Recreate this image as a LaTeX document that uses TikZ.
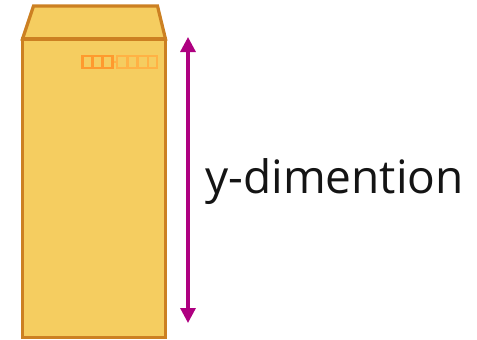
\documentclass[tikz,border=0pt]{standalone}
\usepackage{fontspec}
\setmainfont{Open Sans}
\usetikzlibrary{arrows.meta}
\definecolor{envfill}{HTML}{F5CD60}
\definecolor{envline}{HTML}{CC8022}
\definecolor{arrowc}{HTML}{AE0080}
\definecolor{zipdark}{HTML}{FF9A2E}
\definecolor{ziplight}{HTML}{FFB245}
\tikzset{
  env/.style={fill=envfill,draw=envline,line width=3.2bp,line join=miter},
  zipd/.style={draw=zipdark,line width=2.2bp},
  zipl/.style={draw=ziplight,line width=2bp},
  dimarrow/.style={draw=arrowc,line width=3.2bp,{Triangle[length=15bp,width=15bp]}-{Triangle[length=15bp,width=15bp]}},
  dimlabel/.style={inner sep=0pt,anchor=base west,text=black!92,font=\fontsize{46bp}{50bp}\selectfont}
}
\begin{document}
\begin{tikzpicture}[x=1bp,y=-1bp]
\useasboundingbox (0,0) rectangle (477,339);
\draw[env] (22.5,39) -- (33.5,6) -- (157.5,6) -- (165.5,39) -- cycle;
\draw[env] (22.5,39) rectangle (165.5,337.5);
\foreach \a in {82.5,92.5,103} \draw[zipd] (\a,56) rectangle ++(9.5,12);
\draw[zipl] (113.5,62) -- (117,62);
\foreach \a in {117,127.5,138,147.5} \draw[zipl] (\a,56) rectangle ++(9.5,12);
\coordinate (top) at (188,37);
\coordinate (bottom) at (188,323);
\draw[dimarrow] (top) -- (bottom);
\node[dimlabel] (lbl) at (205,193) {y-dimention};
\end{tikzpicture}
\end{document}
